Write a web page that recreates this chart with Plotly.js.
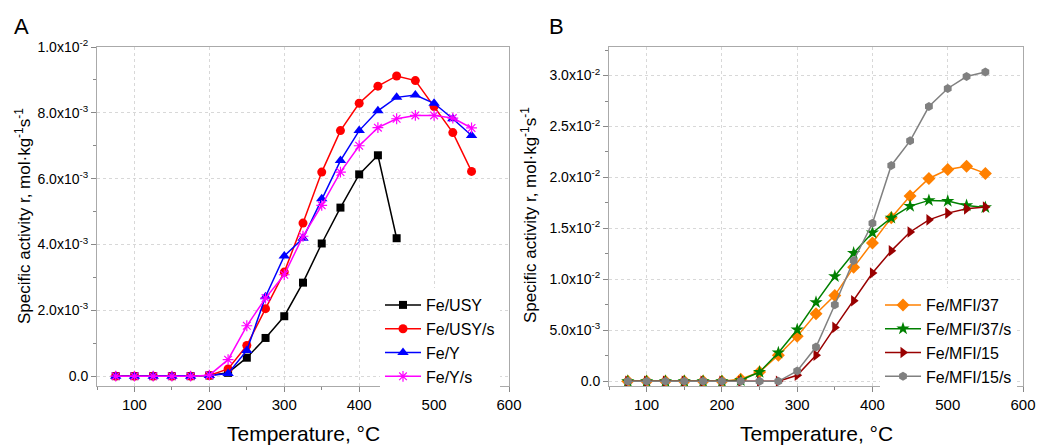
<!DOCTYPE html>
<html><head><meta charset="utf-8">
<script src="https://cdn.plot.ly/plotly-3.0.1.min.js"></script>
<style>body{margin:0;background:#fff}#c{width:1038px;height:446px}</style>
</head><body><div id="c"></div>
<script>
const temps = [75,100,125,150,175,200,225,250,275,300,325,350,375,400,425,450,475,500,525,550];
const tempsUSY = [75,100,125,150,175,200,225,250,275,300,325,350,375,400,425,450];
// Panel A
const feUSY   = [0,0,0,0,0,0.00002,0.0001,0.00056,0.00116,0.00182,0.00284,0.00403,0.00512,0.00613,0.00671,0.00419];
const feUSYs  = [0,0,0,0,0,0.00002,0.00022,0.00093,0.00205,0.00316,0.00465,0.0062,0.00746,0.00829,0.00881,0.00912,0.00898,0.00819,0.0074,0.00622];
const feY     = [0,0,0,0,0,0.00002,0.00008,0.00078,0.00241,0.00365,0.00419,0.00539,0.00655,0.00746,0.00806,0.00847,0.00854,0.00829,0.00782,0.00731];
const feYs    = [0,0,0,0,0,0.00003,0.0005,0.00153,0.00237,0.00308,0.00425,0.00519,0.0062,0.0070,0.00755,0.00782,0.00792,0.00792,0.00784,0.00754];
// Panel B
const mfi37   = [0,0,0,0,0,0,0.0002,0.00091,0.00255,0.00441,0.00663,0.00843,0.01118,0.01358,0.01604,0.01817,0.0199,0.02078,0.0211,0.0204];
const mfi37s  = [0,0,0,0,0,0,0.0001,0.00091,0.0028,0.00506,0.00775,0.0103,0.01258,0.01458,0.01604,0.01719,0.01775,0.01768,0.01725,0.01706];
const mfi15   = [0,0,0,0,0,0,0,0,0,0.00059,0.00255,0.00529,0.0079,0.01062,0.0128,0.01465,0.01584,0.0165,0.01692,0.01709];
const mfi15s  = [0,0,0,0,0,0,0,0,0,0.00101,0.00336,0.00751,0.01186,0.0155,0.02118,0.02359,0.02696,0.02873,0.0299,0.03035];

const yTickA = [0,0.002,0.004,0.006,0.008,0.01];
const yTextA = ['0.0','2.0x10<sup>-3</sup>','4.0x10<sup>-3</sup>','6.0x10<sup>-3</sup>','8.0x10<sup>-3</sup>','1.0x10<sup>-2</sup>'];
const yTickB = [0,0.005,0.01,0.015,0.02,0.025,0.03];
const yTextB = ['0.0','5.0x10<sup>-3</sup>','1.0x10<sup>-2</sup>','1.5x10<sup>-2</sup>','2.0x10<sup>-2</sup>','2.5x10<sup>-2</sup>','3.0x10<sup>-2</sup>'];

const F = 'Arial, "Liberation Sans", sans-serif';
function tr(x,y,name,color,symbol,size,xa,ya,leg,extra){
  const m = {symbol:symbol,size:size,color:color,line:{width:0,color:color}};
  if(extra) Object.assign(m,extra);
  return {x:x,y:y,name:name,type:'scatter',mode:'lines+markers',
    line:{color:color,width:1.5},marker:m,xaxis:xa,yaxis:ya,legend:leg};
}
const data = [
  tr(tempsUSY,feUSY,'Fe/USY','#000000','square',8,'x','y','legend'),
  tr(temps,feUSYs,'Fe/USY/s','#ff0000','circle',9,'x','y','legend'),
  tr(temps,feY,'Fe/Y','#0000ff','triangle-up',10,'x','y','legend'),
  tr(temps,feYs,'Fe/Y/s','#ff00ff','asterisk-open',9,'x','y','legend',{line:{width:1.2,color:'#ff00ff'}}),
  tr(temps,mfi37,'Fe/MFI/37','#ff8000','diamond',10,'x2','y2','legend2'),
  tr(temps,mfi37s,'Fe/MFI/37/s','#008000','star',10,'x2','y2','legend2'),
  tr(temps,mfi15,'Fe/MFI/15','#990000','triangle-right',10,'x2','y2','legend2'),
  tr(temps,mfi15s,'Fe/MFI/15/s','#808080','hexagon',9,'x2','y2','legend2')
];
const xCommon = {range:[50,600],tickmode:'linear',tick0:0,dtick:100,ticks:'outside',ticklen:5,tickcolor:'#888',
  showline:true,mirror:true,linecolor:'#aaa',linewidth:1,showgrid:true,gridcolor:'#d8d8d8',griddash:'dot',gridwidth:1,
  zeroline:false,tickfont:{family:F,size:15,color:'#000'},
  minor:{tickmode:'linear',tick0:0,dtick:50,ticks:'outside',ticklen:3,tickcolor:'#888',showgrid:false}};
const yCommon = {ticks:'outside',ticklen:5,tickcolor:'#888',showline:true,mirror:true,linecolor:'#aaa',linewidth:1,
  showgrid:true,gridcolor:'#d8d8d8',griddash:'dot',gridwidth:1,zeroline:false,tickfont:{family:F,size:14,color:'#000'},
  tickmode:'array'};
const yDom = [1-386/446, 1-47/446];
const layout = {
  width:1038,height:446,margin:{l:0,r:0,t:0,b:0},paper_bgcolor:'#fff',plot_bgcolor:'#fff',
  font:{family:F,color:'#000'},
  xaxis:Object.assign({},xCommon,{domain:[97/1038,509/1038],anchor:'y'}),
  xaxis2:Object.assign({},xCommon,{domain:[609/1038,1023/1038],anchor:'y2'}),
  yaxis:Object.assign({},yCommon,{domain:yDom,anchor:'x',range:[-0.0003,0.01],tickvals:yTickA,ticktext:yTextA,
    minor:{tickmode:'linear',tick0:0,dtick:0.001,ticks:'outside',ticklen:3,tickcolor:'#888',showgrid:false}}),
  yaxis2:Object.assign({},yCommon,{domain:yDom,anchor:'x2',range:[-0.00046,0.0328],tickvals:yTickB,ticktext:yTextB,
    minor:{tickmode:'linear',tick0:0,dtick:0.0025,ticks:'outside',ticklen:3,tickcolor:'#888',showgrid:false}}),
  legend:{x:380/1038,y:1-288/446,xanchor:'left',yanchor:'top',bgcolor:'#fff',borderwidth:0,
    font:{family:F,size:16,color:'#000'},itemwidth:36,tracegroupgap:0},
  legend2:{x:880/1038,y:1-288/446,xanchor:'left',yanchor:'top',bgcolor:'#fff',borderwidth:0,
    font:{family:F,size:16,color:'#000'},itemwidth:36,tracegroupgap:0},
  showlegend:true,
  annotations:[
    {text:'A',x:12/1038,y:1-27/446,xref:'paper',yref:'paper',xanchor:'left',yanchor:'middle',showarrow:false,font:{family:F,size:22}},
    {text:'B',x:547/1038,y:1-27/446,xref:'paper',yref:'paper',xanchor:'left',yanchor:'middle',showarrow:false,font:{family:F,size:22}},
    {text:'Temperature, °C',x:303/1038,y:1-433/446,xref:'paper',yref:'paper',xanchor:'center',yanchor:'middle',showarrow:false,font:{family:F,size:21}},
    {text:'Temperature, °C',x:816/1038,y:1-433/446,xref:'paper',yref:'paper',xanchor:'center',yanchor:'middle',showarrow:false,font:{family:F,size:21}},
    {text:'Specific activity r, mol·kg<sup>-1</sup>s<sup>-1</sup>',x:23/1038,y:1-216/446,xref:'paper',yref:'paper',xanchor:'center',yanchor:'middle',textangle:-90,showarrow:false,font:{family:F,size:17}},
    {text:'Specific activity r, mol·kg<sup>-1</sup>s<sup>-1</sup>',x:529/1038,y:1-215/446,xref:'paper',yref:'paper',xanchor:'center',yanchor:'middle',textangle:-90,showarrow:false,font:{family:F,size:17}}
  ]
};
Plotly.newPlot('c',data,layout,{displayModeBar:false,staticPlot:true});
</script></body></html>
